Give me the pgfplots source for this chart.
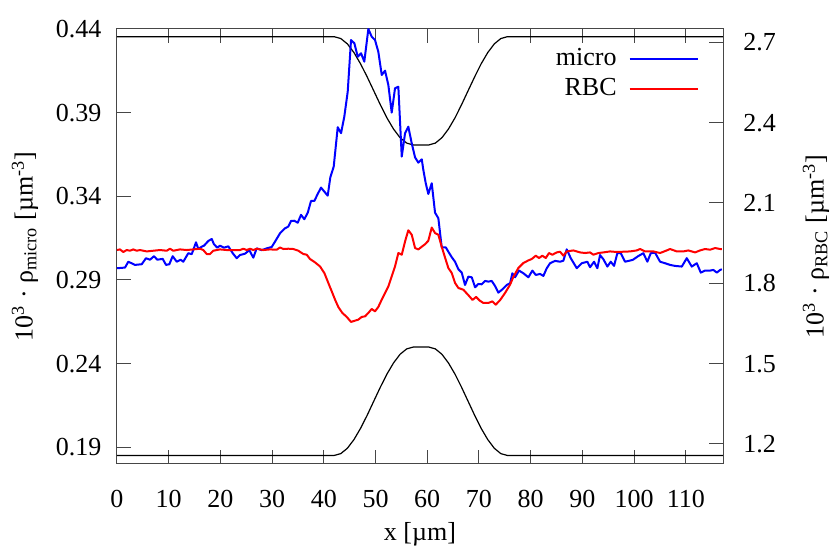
\documentclass[border=0pt]{standalone}
\usepackage{fontspec}
\setmainfont{Liberation Serif}
\usepackage{pgfplots}
\pgfplotsset{compat=1.18}
\definecolor{framegray}{RGB}{70,70,70}
\begin{document}
\fontsize{13}{15.6}\selectfont
\begin{tikzpicture}[font=\fontsize{13}{15.6}\selectfont]
\useasboundingbox (-58.5pt,-43.5pt) rectangle (356.5pt,232pt);
\pgfplotsset{
  common/.style={width=303pt,height=217.5pt,scale only axis,
    at={(0,0)},anchor=south west,
    xmin=0,xmax=117.2,
    axis line style={framegray,line width=0.5pt},
    tick style={framegray,line width=0.5pt},
    major tick length=6.8pt,
    /pgf/number format/assume math mode=true},
}
\begin{axis}[common,
  ymin=0.18,ymax=0.44,
  xtick={0,10,...,110},
  ytick={0.19,0.24,0.29,0.34,0.39,0.44},
  xtick pos=both, ytick pos=left,
  xticklabel pos=left,
  xticklabel style={yshift=-8.7pt},
  yticklabel style={xshift=-3.3pt,/pgf/number format/.cd,fixed,fixed zerofill,precision=2,/tikz/.cd},
  xlabel={x [µm]},
  xlabel style={at={(axis description cs:0.5,-0.161)},anchor=center},
  ylabel={10\textsuperscript{3} · ρ\textsubscript{micro} [µm\textsuperscript{-3}]},
  ylabel style={at={(axis description cs:-0.152,0.5)},anchor=center},
  legend plot pos=right,
  legend cell align=right,
  legend image code/.code={\draw[#1] (0pt,0pt) -- (34pt,0pt);},
  legend style={draw=none,fill=none,at={(axis description cs:0.9604,0.966)},anchor=north east,
    inner sep=0pt,column sep=4.5pt,row sep=0pt,
    nodes={inner sep=1.5pt,text height=9pt,text depth=3pt}},
]
% wall profile (upper)
\addplot[black,line width=0.6pt,forget plot] coordinates {
(0,0.4354)(42.0,0.4354)(43.28,0.4343)(44.55,0.4311)(45.83,0.4259)(47.1,0.4192)(48.38,0.4114)(49.65,0.4031)(50.93,0.3947)(52.2,0.3869)(53.48,0.3802)(54.75,0.3750)(56.03,0.3718)(57.3,0.3707)(60.3,0.3707)(61.57,0.3718)(62.83,0.3750)(64.1,0.3802)(65.37,0.3869)(66.63,0.3947)(67.9,0.4031)(69.17,0.4114)(70.43,0.4192)(71.7,0.4259)(72.97,0.4311)(74.23,0.4343)(75.5,0.4354)(117.2,0.4354)};
% wall profile (lower)
\addplot[black,line width=0.6pt,forget plot] coordinates {
(0,0.1851)(42.0,0.1851)(43.28,0.1862)(44.55,0.1894)(45.83,0.1946)(47.1,0.2013)(48.38,0.2091)(49.65,0.2175)(50.93,0.2259)(52.2,0.2337)(53.48,0.2404)(54.75,0.2456)(56.03,0.2488)(57.3,0.2499)(60.3,0.2499)(61.57,0.2488)(62.83,0.2456)(64.1,0.2404)(65.37,0.2337)(66.63,0.2259)(67.9,0.2175)(69.17,0.2091)(70.43,0.2013)(71.7,0.1946)(72.97,0.1894)(74.23,0.1862)(75.5,0.1851)(117.2,0.1851)};
\addplot[blue,line width=1pt,line join=round] coordinates {
(0.0,0.2970)(1.55,0.2974)(2.19,0.3009)(3.48,0.2990)(4.78,0.2994)(5.61,0.3030)(6.38,0.3021)(7.16,0.3042)(7.79,0.3021)(8.84,0.3026)
(9.48,0.2990)(10.12,0.2994)(10.77,0.3042)(11.55,0.3009)(12.32,0.3021)(12.82,0.3009)(13.79,0.3060)(14.45,0.3054)(15.28,0.3125)(15.73,0.3085)
(16.38,0.3099)(16.83,0.3105)(17.66,0.3133)(18.32,0.3145)(18.76,0.3113)(19.40,0.3093)(19.92,0.3105)(20.70,0.3093)(21.53,0.3101)(22.38,0.3060)
(23.15,0.3030)(23.79,0.3049)(24.76,0.3057)(25.59,0.3078)(26.36,0.3033)(27.02,0.3089)(27.99,0.3078)(28.96,0.3089)(29.92,0.3097)(30.56,0.3129)
(31.53,0.3179)(32.50,0.3209)(33.13,0.3219)(33.66,0.3253)(34.29,0.3254)(34.95,0.3242)(35.59,0.3289)(36.23,0.3263)(36.89,0.3302)(37.52,0.3372)
(38.16,0.3372)(38.82,0.3414)(39.46,0.3452)(40.10,0.3428)(40.75,0.3404)(41.26,0.3514)(41.91,0.3577)(42.69,0.3813)(43.33,0.3777)(43.96,0.3876)
(44.62,0.4025)(45.26,0.4334)(45.90,0.4315)(46.56,0.4234)(47.20,0.4255)(47.83,0.4205)(48.61,0.4400)(49.26,0.4354)(49.90,0.4334)(50.54,0.4264)
(51.20,0.4125)(51.84,0.4151)(52.48,0.4065)(53.13,0.3900)(53.77,0.4046)(54.41,0.4055)(55.07,0.3637)(55.71,0.3777)(56.34,0.3816)(57.00,0.3717)
(57.64,0.3633)(58.28,0.3601)(58.94,0.3621)(59.25,0.3557)(59.71,0.3478)(60.21,0.3414)(60.87,0.3478)(61.51,0.3302)(62.15,0.3269)(62.80,0.3095)
(63.58,0.3095)(64.08,0.3069)(64.74,0.3036)(65.38,0.3009)(66.02,0.2964)(66.67,0.2944)(67.31,0.2870)(67.95,0.2920)(68.61,0.2916)(69.25,0.2856)
(69.88,0.2876)(70.54,0.2874)(71.18,0.2894)(71.82,0.2890)(72.48,0.2894)(73.11,0.2864)(73.75,0.2824)(74.53,0.2844)(75.38,0.2870)(76.02,0.2880)
(76.46,0.2940)(76.98,0.2916)(77.76,0.2956)(78.59,0.2940)(79.56,0.2916)(80.33,0.2956)(80.99,0.2930)(81.82,0.2936)(82.46,0.2924)(83.11,0.2970)
(83.75,0.3000)(84.72,0.3014)(85.69,0.3009)(86.33,0.3015)(86.98,0.3083)(87.76,0.3030)(88.92,0.2970)(89.88,0.3000)(90.97,0.3009)(91.49,0.2976)
(92.26,0.3009)(92.90,0.2970)(93.42,0.3049)(94.06,0.3024)(94.84,0.2980)(95.49,0.3009)(96.13,0.2984)(96.77,0.3060)(97.43,0.3060)(98.26,0.3009)
(99.75,0.3020)(100.83,0.3043)(101.80,0.3060)(102.57,0.3009)(103.23,0.3060)(104.06,0.3063)(105.03,0.3009)(106.00,0.3000)(106.96,0.2990)(107.93,0.2984)
(109.23,0.2980)(110.19,0.3030)(111.16,0.2980)(112.13,0.3000)(112.90,0.2944)(113.73,0.2956)(114.70,0.2956)(115.34,0.2960)(116.00,0.2944)(116.65,0.2960)(116.97,0.2964)};
\addlegendentry{micro}
\addlegendimage{red,line width=1pt}
\addlegendentry{RBC}
\end{axis}
\begin{axis}[common,
  ymin=1.125,ymax=2.75,
  axis y line*=right, axis x line=none,
  ytick={1.2,1.5,1.8,2.1,2.4,2.7},
  yticklabel style={xshift=5.7pt,/pgf/number format/.cd,fixed,fixed zerofill,precision=1,/tikz/.cd},
  ylabel={10\textsuperscript{3} · ρ\textsubscript{RBC} [µm\textsuperscript{-3}]},
  ylabel style={at={(axis description cs:1.1535,0.5)},anchor=center},
]
\addplot[red,line width=1pt,line join=round] coordinates {
(0.0,1.9243)(0.58,1.9266)(1.22,1.9169)(1.88,1.9243)(2.51,1.9217)(3.15,1.9266)(3.81,1.9217)(4.45,1.9243)(5.09,1.9217)(5.74,1.9191)
(7.02,1.9217)(8.32,1.9243)(9.61,1.9217)(10.25,1.9292)(10.89,1.9217)(12.19,1.9266)(13.48,1.9243)(14.76,1.9266)(16.05,1.9292)(16.69,1.9243)
(17.35,1.9094)(17.99,1.9094)(18.63,1.9217)(19.92,1.9266)(21.22,1.9243)(22.50,1.9243)(23.79,1.9243)(24.43,1.9292)(25.09,1.9243)(25.73,1.9292)
(26.36,1.9243)(27.02,1.9292)(28.30,1.9243)(29.59,1.9266)(30.89,1.9255)(31.53,1.9340)(32.17,1.9281)(33.13,1.9292)(34.10,1.9281)(35.07,1.9217)
(36.04,1.9094)(36.69,1.9068)(37.33,1.8907)(38.30,1.8781)(39.26,1.8631)(40.10,1.8385)(40.87,1.8012)(41.53,1.7699)(42.17,1.7389)(42.80,1.7117)
(43.58,1.6893)(44.43,1.6744)(45.26,1.6557)(46.03,1.6605)(46.67,1.6643)(47.33,1.6744)(47.97,1.6766)(48.61,1.6893)(49.26,1.7042)(49.90,1.6952)
(50.54,1.7117)(51.20,1.7389)(51.84,1.7639)(52.48,1.7885)(53.13,1.8258)(53.77,1.8631)(54.41,1.9131)(55.07,1.9068)(55.71,1.9564)(56.34,1.9982)
(57.00,1.9814)(57.64,1.9318)(58.28,1.9266)(58.94,1.9366)(59.58,1.9460)(60.21,1.9590)(60.87,2.0083)(61.51,1.9878)(62.15,1.9814)(62.80,1.9366)
(63.44,1.8963)(64.08,1.8572)(64.74,1.8385)(65.38,1.8012)(66.02,1.7825)(66.98,1.7762)(67.95,1.7557)(68.76,1.7378)(69.44,1.7490)(70.16,1.7352)
(70.85,1.7266)(71.82,1.7266)(72.59,1.7326)(73.25,1.7202)(74.08,1.7370)(75.05,1.7639)(76.02,1.7949)(76.65,1.8236)(77.62,1.8572)(78.59,1.8758)
(79.56,1.8855)(80.21,1.8907)(80.99,1.9031)(81.62,1.8945)(82.26,1.9031)(82.92,1.8945)(83.56,1.9131)(84.20,1.9068)(85.05,1.9154)(85.69,1.9180)
(86.33,1.9031)(86.98,1.9191)(88.26,1.9228)(89.56,1.9154)(90.52,1.9131)(91.49,1.9154)(92.13,1.9068)(93.10,1.9131)(94.06,1.9154)(95.36,1.9191)
(96.65,1.9169)(97.93,1.9180)(99.23,1.9191)(100.52,1.9228)(101.16,1.9281)(102.13,1.9191)(103.73,1.9191)(105.03,1.9131)(106.32,1.9228)(106.96,1.9281)
(108.26,1.9191)(109.54,1.9191)(110.50,1.9228)(111.80,1.9154)(112.77,1.9228)(113.73,1.9281)(114.70,1.9255)(115.67,1.9318)(116.65,1.9281)(116.97,1.9281)};
\end{axis}
\end{tikzpicture}
\end{document}
